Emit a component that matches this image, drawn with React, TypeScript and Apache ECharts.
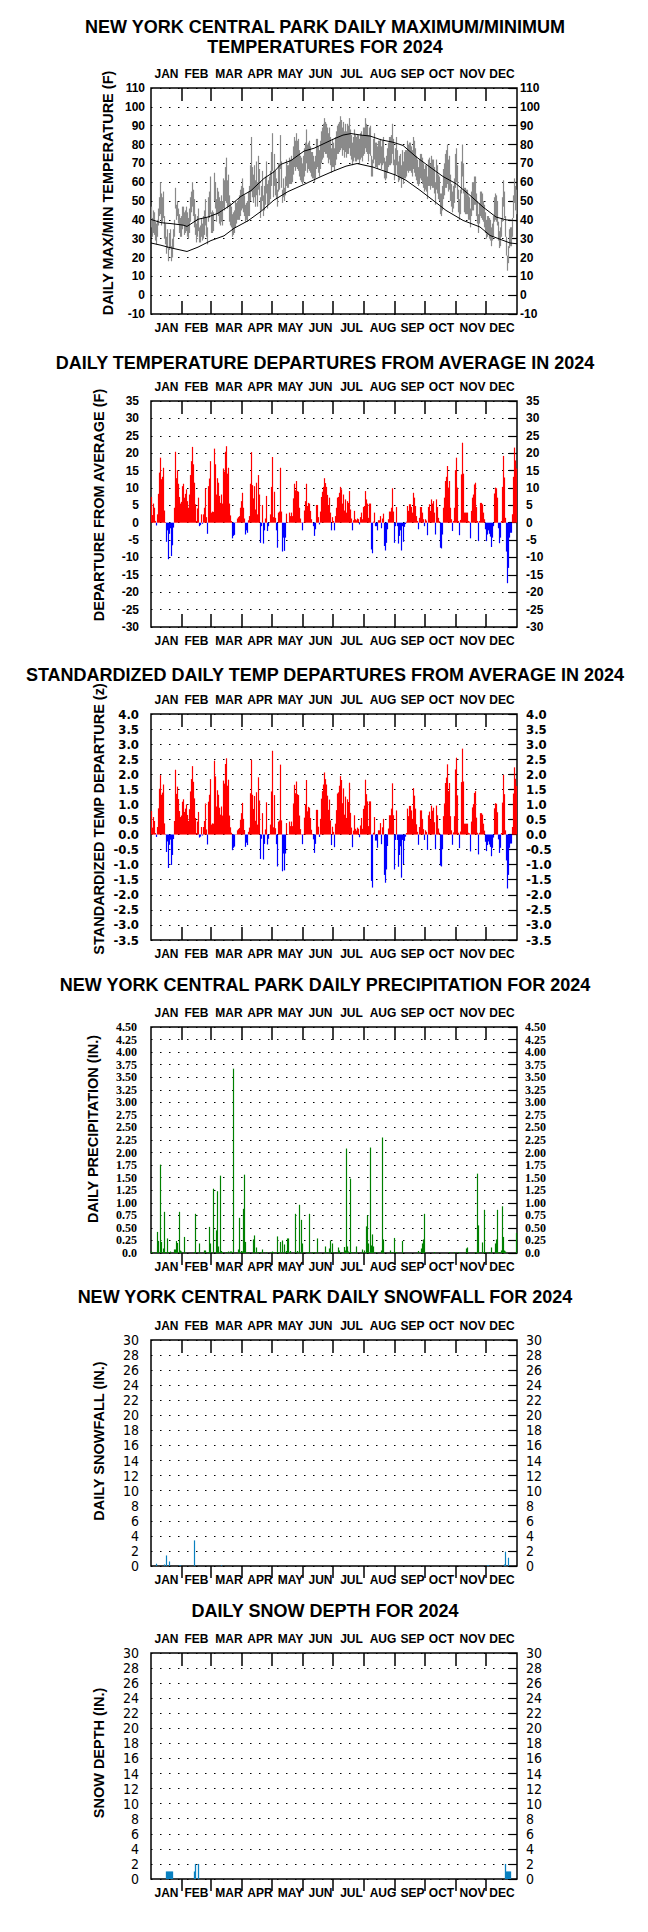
import React, { useEffect, useRef } from "react";
import * as echarts from "echarts";

// ---------- axis / category data ----------
const MONTHS = ["JAN", "FEB", "MAR", "APR", "MAY", "JUN", "JUL", "AUG", "SEP", "OCT", "NOV", "DEC"];
const MONTH_STARTS = [31, 60, 91, 121, 152, 182, 213, 244, 274, 305, 335];
const MONTH_LABEL_DAYS = [15.5, 45.5, 78, 109, 139.5, 169.5, 200.5, 232, 261.5, 290.5, 321.5, 351];

const TEMP_AXIS = [-10, 110, 10];
const DEP_AXIS = [-30, 35, 5];
const Z_AXIS = [-3.5, 4, 0.5];
const PRECIP_AXIS = [0, 4.5, 0.25];
const SNOW_AXIS = [0, 30, 2];

// ---------- normals (day of year, deg F) ----------
const NORMAL_MAX: [number, number][] = [
  [0, 40.2], [10, 38.5], [20, 38], [32, 37.2], [36, 36.5], [47, 40.3], [57, 41.5], [67, 43.5], [80, 48], [90, 52.5],
  [100, 55.5], [113, 62], [123, 65.5], [130, 69.5], [140, 71.5], [153, 76.5], [163, 78], [173, 80.5], [183, 83],
  [192, 85], [200, 85.8], [210, 85], [219, 84.5], [230, 82.5], [242, 81.2], [252, 79.5], [265, 73.5], [279, 68],
  [292, 63], [305, 59.2], [319, 53], [332, 46.8], [345, 41.5], [355, 40], [366, 39.5],
];
const NORMAL_MIN: [number, number][] = [
  [0, 27.7], [10, 26.5], [17, 25.5], [25, 24.5], [36, 23.2], [47, 25.5], [60, 29], [73, 31.5], [83, 35.5], [97, 39.5],
  [110, 44.5], [123, 50.5], [137, 55], [153, 58.8], [170, 63], [183, 66], [195, 68.5], [206, 69.9], [222, 68],
  [245, 63.7], [255, 61], [269, 55.7], [282, 50.4], [295, 45], [312, 39.7], [329, 36.2], [339, 31.7], [350, 29.5],
  [359, 27.7], [366, 27.3],
];

// ---------- daily observed max / min (deg F), Jan 1 .. Dec 31 ----------
const DAILY_MAX = [
  47, 41, 45, 44, 39, 38, 40, 46, 52, 60, 54, 52, 55, 42, 38, 31, 35, 25, 33, 35, 26, 30, 35, 40, 57, 48, 50, 46, 43, 41, 42,
  47, 47, 44, 45, 47, 44, 41, 46, 52, 55, 60, 56, 51, 43, 38, 42, 46, 36, 37, 41, 38, 42, 45, 51, 41, 36, 52, 55, 63,
  44, 45, 44, 65, 60, 51, 57, 55, 52, 50, 53, 50, 62, 61, 68, 73, 61, 64, 53, 49, 47, 43, 44, 45, 50, 49, 50, 51, 53, 56, 58,
  62, 57, 53, 48, 49, 50, 55, 58, 69, 84, 68, 64, 69, 61, 71, 60, 74, 67, 52, 58, 66, 53, 58, 63, 71, 59, 61, 63, 66, 76,
  86, 66, 75, 66, 62, 56, 70, 70, 85, 71, 56, 62, 57, 63, 72, 69, 69, 73, 72, 74, 72, 79, 84, 82, 86, 82, 83, 77, 74, 73, 70,
  74, 78, 81, 88, 80, 81, 82, 79, 76, 76, 74, 71, 74, 83, 83, 79, 77, 82, 87, 89, 91, 94, 92, 91, 89, 86, 89, 84, 78, 83,
  81, 78, 84, 87, 90, 91, 92, 95, 93, 89, 92, 87, 91, 87, 91, 90, 94, 88, 85, 81, 84, 88, 85, 84, 85, 85, 83, 86, 87, 85, 89,
  89, 94, 91, 90, 85, 89, 90, 74, 72, 83, 86, 81, 81, 79, 82, 82, 83, 79, 82, 84, 73, 71, 74, 78, 81, 84, 84, 85, 91, 83, 72,
  78, 84, 77, 71, 74, 75, 69, 77, 71, 76, 77, 77, 82, 80, 81, 81, 79, 77, 84, 82, 78, 74, 72, 68, 72, 75, 75, 73, 70, 67,
  69, 69, 63, 72, 73, 70, 74, 72, 72, 68, 60, 72, 69, 64, 63, 54, 54, 58, 67, 70, 75, 77, 80, 72, 74, 64, 59, 55, 58, 62, 75,
  78, 69, 56, 51, 56, 71, 80, 70, 57, 57, 56, 56, 53, 52, 46, 55, 60, 60, 63, 63, 54, 50, 43, 49, 55, 55, 54, 50, 48, 44,
  40, 42, 42, 41, 40, 36, 38, 42, 52, 54, 53, 50, 39, 34, 36, 41, 52, 61, 55, 42, 31, 21, 26, 35, 36, 36, 41, 53, 62, 58, 56,
];
const DAILY_MIN = [
  36, 31, 33, 32, 29, 27, 31, 37, 42, 43, 37, 39, 41, 30, 27, 22, 25, 18, 24, 25, 18, 20, 25, 31, 46, 40, 42, 38, 33, 31, 31,
  35, 37, 32, 33, 34, 31, 30, 33, 39, 44, 47, 42, 36, 32, 28, 31, 34, 28, 28, 31, 29, 30, 32, 37, 31, 27, 39, 41, 43,
  33, 33, 34, 50, 46, 39, 43, 42, 38, 37, 39, 37, 46, 45, 50, 49, 46, 47, 39, 37, 36, 31, 32, 33, 36, 38, 40, 40, 40, 42, 45,
  46, 44, 42, 39, 40, 39, 42, 42, 50, 55, 52, 49, 52, 47, 53, 47, 56, 53, 41, 45, 50, 42, 45, 48, 54, 46, 48, 49, 51, 58,
  66, 52, 58, 53, 51, 47, 55, 56, 67, 57, 49, 52, 50, 53, 58, 57, 57, 59, 59, 59, 60, 64, 68, 66, 68, 67, 66, 63, 61, 60, 59,
  60, 63, 66, 70, 65, 67, 66, 65, 63, 62, 62, 60, 62, 67, 68, 65, 63, 67, 70, 72, 73, 76, 75, 75, 73, 70, 72, 69, 65, 68,
  68, 66, 69, 72, 75, 75, 76, 77, 78, 74, 77, 73, 76, 73, 75, 75, 78, 74, 72, 69, 71, 73, 71, 71, 72, 72, 70, 72, 73, 71, 74,
  75, 78, 76, 75, 71, 75, 74, 63, 63, 70, 72, 68, 68, 67, 69, 69, 70, 67, 69, 70, 62, 61, 62, 65, 68, 69, 69, 70, 75, 69, 61,
  64, 69, 64, 60, 61, 62, 57, 62, 59, 62, 62, 63, 66, 65, 66, 66, 65, 63, 67, 65, 63, 61, 59, 58, 59, 62, 61, 59, 57, 55,
  56, 55, 51, 58, 58, 56, 58, 57, 57, 54, 48, 56, 54, 51, 50, 43, 42, 45, 51, 53, 57, 57, 59, 55, 56, 50, 47, 44, 46, 49, 57,
  60, 51, 44, 40, 43, 54, 63, 54, 44, 43, 43, 43, 40, 40, 36, 42, 45, 45, 48, 48, 42, 38, 33, 38, 42, 41, 40, 39, 36, 33,
  30, 31, 32, 30, 29, 26, 29, 31, 39, 40, 39, 37, 29, 25, 26, 31, 39, 47, 41, 31, 21, 13, 17, 25, 26, 26, 31, 41, 49, 45, 43,
];

// ---------- daily departure from average (deg F) ----------
const DEPARTURE = [
  7.4, 2.2, 5.5, 4.3, 0.5, -0.8, 2.4, 8.3, 14.4, 18.7, 12.5, 13.2, 15.8, 3.5, 0.2, -5.5, -2.2, -10.5, -3.2, -1.6, -9.6, -6.5, -1.4, 4.3, 20.4, 12.8, 15.1, 11.2, 7.4, 5.5, 6.0,
  10.5, 11.2, 7.2, 8.3, 9.6, 6.2, 4.3, 8.1, 13.7, 17.7, 21.8, 16.8, 11.5, 5.3, 0.5, 4.1, 7.2, -1.0, -0.7, 2.4, -0.3, 2.4, 4.3, 9.9, 1.6, -3.2, 10.5, 12.7, 17.7,
  2.9, 3.2, 3.1, 21.3, 16.8, 8.1, 12.8, 11.5, 7.7, 5.7, 8.1, 5.5, 15.6, 14.7, 20.4, 22.0, 14.1, 15.8, 5.5, 2.1, 0.5, -4.5, -3.8, -3.5, 0.1, 0.1, 1.2, 1.6, 1.9, 4.3, 6.2,
  8.6, 4.3, 1.2, -3.4, -2.2, -2.9, 0.7, 1.9, 11.2, 20.3, 10.8, 7.0, 10.5, 3.8, 11.5, 2.4, 13.7, 8.1, -5.8, -1.0, 5.1, -6.0, -2.2, 1.2, 7.7, -2.4, -1.0, 0.1, 2.4, 10.3,
  18.9, 1.6, 8.9, 1.4, -2.2, -7.2, 2.9, 3.2, 15.8, 3.2, -8.3, -4.3, -8.1, -4.3, 2.6, 0.1, 0.1, 2.9, 1.9, 2.9, 1.9, 7.0, 11.2, 9.3, 12.0, 9.1, 8.9, 4.3, 1.2, 0.1, -2.2,
  0.1, 3.5, 6.2, 11.2, 4.8, 5.7, 5.5, 3.4, 1.0, 0.1, -1.0, -3.8, -1.9, 5.1, 5.1, 1.6, -0.5, 3.2, 7.4, 8.9, 10.3, 12.8, 11.4, 10.3, 8.0, 5.1, 7.2, 2.9, -2.2, 1.6,
  0.5, -2.2, 1.9, 4.3, 7.2, 7.4, 8.6, 10.3, 9.6, 5.5, 8.1, 3.5, 6.7, 2.9, 6.2, 5.7, 9.1, 3.8, 1.2, -2.2, 0.7, 3.4, 1.0, 0.7, 1.2, 1.0, -0.5, 1.6, 2.9, 1.0, 4.5,
  4.8, 9.1, 6.7, 5.5, 1.4, 5.5, 5.5, -7.7, -8.8, 0.3, 2.9, -1.0, -1.0, -2.2, 0.7, 0.7, 1.9, -1.6, 1.2, 2.6, -6.7, -8.0, -5.8, -1.9, 1.0, 3.2, 3.2, 4.3, 9.9, 3.2, -5.8,
  -1.0, 4.5, -1.0, -6.0, -3.8, -2.2, -8.0, -1.0, -5.5, -1.2, -0.4, 0.3, 4.8, 3.4, 5.3, 5.3, 4.5, 2.9, 8.6, 7.2, 4.8, 1.9, 0.5, -1.9, 1.4, 4.5, 4.5, 2.9, 1.0, -1.0,
  1.0, 0.6, -3.6, 4.5, 5.3, 3.4, 6.7, 5.5, 6.2, 2.9, -3.4, 6.7, 4.5, 1.4, 0.4, -7.2, -7.4, -3.4, 4.3, 7.2, 12.0, 13.2, 16.3, 10.1, 12.0, 4.3, 1.0, -2.4, 0.5, 4.3, 15.1,
  18.7, 10.1, 0.5, -3.6, 0.8, 13.9, 23.0, 14.1, 2.9, 2.9, 2.9, 2.9, 0.5, 0.3, -4.5, 3.4, 7.2, 8.1, 11.0, 11.5, 4.5, 0.5, -5.3, 0.5, 5.7, 5.7, 5.3, 2.9, 1.0, -1.9,
  -5.3, -3.4, -2.2, -3.2, -4.0, -7.0, -4.3, -1.0, 8.4, 10.1, 9.9, 7.2, -1.6, -5.9, -4.3, 0.5, 10.3, 19.2, 13.0, 1.4, -8.3, -17.4, -13.0, -4.3, -2.9, -2.9, 2.4, 13.2, 21.6, 17.9, 15.6,
];

// ---------- standardized departure (z) ----------
const Z_DEPARTURE = [
  0.78, 0.23, 0.58, 0.45, 0.05, -0.08, 0.25, 0.87, 1.52, 1.97, 1.32, 1.39, 1.66, 0.37, 0.02, -0.58, -0.23, -1.11, -0.34, -0.17, -1.01, -0.68, -0.15, 0.45, 2.15, 1.35, 1.59, 1.18, 0.78, 0.58, 0.63,
  1.09, 1.17, 0.75, 0.86, 1.0, 0.65, 0.45, 0.84, 1.43, 1.84, 2.27, 1.75, 1.2, 0.55, 0.05, 0.43, 0.75, -0.1, -0.07, 0.25, -0.03, 0.25, 0.45, 1.03, 0.17, -0.33, 1.09, 1.32, 1.84,
  0.33, 0.37, 0.36, 2.45, 1.93, 0.93, 1.47, 1.32, 0.89, 0.66, 0.93, 0.63, 1.79, 1.69, 2.34, 2.53, 1.62, 1.82, 0.63, 0.24, 0.06, -0.52, -0.44, -0.4, 0.01, 0.01, 0.14, 0.18, 0.22, 0.49, 0.71,
  1.05, 0.52, 0.15, -0.41, -0.27, -0.35, 0.09, 0.23, 1.37, 2.48, 1.32, 0.85, 1.28, 0.46, 1.4, 0.33, 1.9, 1.13, -0.81, -0.14, 0.71, -0.83, -0.31, 0.17, 1.07, -0.33, -0.14, 0.01, 0.33, 1.43,
  2.78, 0.24, 1.31, 0.21, -0.32, -1.06, 0.43, 0.47, 2.32, 0.47, -1.22, -0.63, -1.19, -0.63, 0.38, 0.01, 0.01, 0.43, 0.28, 0.43, 0.28, 1.03, 1.65, 1.37, 1.76, 1.34, 1.31, 0.63, 0.18, 0.01, -0.32,
  0.02, 0.56, 1.0, 1.81, 0.77, 0.92, 0.89, 0.55, 0.16, 0.02, -0.16, -0.61, -0.31, 0.82, 0.82, 0.26, -0.08, 0.52, 1.19, 1.44, 1.66, 2.06, 1.84, 1.66, 1.29, 0.82, 1.16, 0.47, -0.35, 0.26,
  0.09, -0.42, 0.36, 0.81, 1.36, 1.4, 1.62, 1.94, 1.81, 1.04, 1.53, 0.66, 1.26, 0.55, 1.17, 1.08, 1.72, 0.72, 0.23, -0.42, 0.13, 0.64, 0.19, 0.13, 0.23, 0.19, -0.09, 0.3, 0.55, 0.19, 0.85,
  0.96, 1.82, 1.34, 1.1, 0.28, 1.1, 1.1, -1.54, -1.76, 0.06, 0.58, -0.2, -0.2, -0.44, 0.14, 0.14, 0.38, -0.32, 0.24, 0.52, -1.34, -1.6, -1.16, -0.38, 0.2, 0.64, 0.64, 0.86, 1.7, 0.64, -1.16,
  -0.18, 0.8, -0.18, -1.07, -0.68, -0.39, -1.43, -0.18, -0.98, -0.21, -0.07, 0.05, 0.86, 0.61, 0.95, 0.95, 0.8, 0.52, 1.54, 1.29, 0.86, 0.34, 0.09, -0.34, 0.25, 0.8, 0.8, 0.52, 0.18, -0.18,
  0.14, 0.09, -0.51, 0.64, 0.76, 0.49, 0.96, 0.79, 0.89, 0.41, -0.49, 0.96, 0.64, 0.2, 0.06, -1.03, -1.06, -0.49, 0.61, 1.03, 1.71, 1.89, 2.33, 1.44, 1.71, 0.61, 0.14, -0.34, 0.07, 0.61, 2.16,
  2.55, 1.3, 0.06, -0.45, 0.1, 1.74, 2.85, 1.76, 0.36, 0.36, 0.36, 0.36, 0.06, 0.04, -0.56, 0.43, 0.9, 1.01, 1.38, 1.44, 0.56, 0.06, -0.66, 0.06, 0.71, 0.71, 0.66, 0.36, 0.13, -0.24,
  -0.55, -0.35, -0.23, -0.33, -0.41, -0.72, -0.44, -0.1, 0.87, 1.04, 1.02, 0.74, -0.16, -0.61, -0.44, 0.05, 1.06, 1.98, 1.34, 0.14, -0.86, -1.79, -1.34, -0.44, -0.3, -0.3, 0.25, 1.36, 2.23, 1.85, 1.61,
];

// ---------- precipitation / snow: [day index (0 = Jan 1), inches], other days zero ----------
const PRECIP: [number, number][] = [
  [0, 0.03], [3, 0.02], [6, 0.42], [7, 0.24], [9, 1.76], [10, 0.22], [12, 0.09], [13, 0.82], [14, 0.02], [16, 0.29],
  [17, 0.02], [19, 0.03], [23, 0.07], [24, 0.07], [25, 0.24], [26, 0.2], [28, 0.82], [29, 0.05], [30, 0.03], [33, 0.32],
  [43, 0.02], [44, 0.78], [48, 0.19], [53, 0.05], [54, 0.05], [57, 0.02], [58, 0.52], [59, 0.19], [62, 1.28], [65, 0.45],
  [66, 1.23], [67, 0.13], [69, 1.54], [70, 0.04], [71, 0.02], [75, 0.02], [77, 0.03], [79, 0.03], [80, 0.03], [82, 3.67],
  [87, 0.07], [88, 0.7], [90, 0.04], [91, 0.03], [92, 0.88], [93, 1.56], [94, 0.22], [97, 0.02], [102, 0.27], [103, 0.35],
  [105, 0.11], [107, 0.02], [109, 0.02], [111, 0.07], [115, 0.02], [119, 0.02], [121, 0.03], [122, 0.02], [126, 0.33],
  [127, 0.02], [129, 0.22], [131, 0.25], [133, 0.17], [135, 0.04], [136, 0.29], [137, 0.29], [139, 0.04], [144, 0.78],
  [146, 0.04], [148, 0.96], [150, 0.66], [151, 0.19], [155, 0.02], [157, 0.02], [158, 0.78], [161, 0.02], [163, 0.02],
  [166, 0.29], [174, 0.13], [176, 0.02], [178, 0.09], [179, 0.25], [181, 0.19], [184, 0.02], [187, 0.11], [188, 0.05],
  [190, 0.02], [193, 0.12], [194, 0.05], [195, 2.08], [196, 0.13], [197, 0.03], [199, 1.48], [200, 0.02], [203, 0.02],
  [205, 0.13], [211, 0.07], [213, 0.05], [215, 0.53], [216, 0.75], [217, 0.19], [219, 2.1], [220, 0.15], [221, 0.37],
  [222, 0.13], [225, 0.02], [230, 0.05], [231, 2.3], [232, 0.27], [239, 0.05], [241, 0.02], [243, 0.3], [245, 0.02],
  [251, 0.24], [267, 0.04], [270, 0.09], [271, 0.19], [272, 0.27], [273, 0.78], [283, 0.02], [298, 0.02], [303, 0.02],
  [307, 0.02], [315, 0.09], [316, 0.11], [324, 0.02], [326, 1.58], [327, 0.55], [331, 0.21], [333, 0.86], [334, 0.02],
  [338, 0.02], [340, 0.11], [344, 0.19], [345, 0.27], [346, 0.86], [348, 0.02], [350, 0.05], [351, 0.93], [352, 0.32],
  [353, 0.05], [354, 0.03], [365, 0.4],
];
const SNOWFALL: [number, number][] = [
  [5, 0.3], [13, 0.2], [15, 1.4], [18, 0.6], [28, 0.1], [29, 0.1], [43, 3.4], [70, 0.1], [336, 0.1], [337, 0.1],
  [353, 0.2], [354, 1.9], [357, 1.1],
];
const SNOW_DEPTH: [number, number][] = [
  [15, 1], [16, 1], [17, 1], [18, 1], [19, 1], [20, 1], [21, 1], [43, 1], [44, 2], [47, 2],
  [354, 2], [355, 1], [356, 1], [357, 1], [358, 1], [359, 1],
];

// ---------- texts ----------
const TITLES = [
  "NEW YORK CENTRAL PARK DAILY MAXIMUM/MINIMUM",
  "TEMPERATURES FOR 2024",
  "DAILY TEMPERATURE DEPARTURES FROM AVERAGE IN 2024",
  "STANDARDIZED DAILY TEMP DEPARTURES FROM AVERAGE IN 2024",
  "NEW YORK CENTRAL PARK DAILY PRECIPITATION FOR 2024",
  "NEW YORK CENTRAL PARK DAILY SNOWFALL FOR 2024",
  "DAILY SNOW DEPTH FOR 2024",
];
const Y_NAMES = [
  "DAILY MAX/MIN TEMPERATURE (F)",
  "DEPARTURE FROM AVERAGE (F)",
  "STANDARDIZED TEMP DEPARTURE (z)",
  "DAILY PRECIPITATION (IN.)",
  "DAILY SNOWFALL (IN.)",
  "SNOW DEPTH (IN.)",
];

const SANS = "'Liberation Sans', Arial, Helvetica, sans-serif";
const NARROW = "'Liberation Sans Narrow', 'DejaVu Sans Condensed', 'Liberation Sans', sans-serif";
const SERIF = "'Liberation Serif', 'Times New Roman', serif";

const PANELS = [
  { top: 88, axis: TEMP_AXIS, fmt: (v: number) => String(v), font: SANS, weight: "bold", size: 12, lm: 6, rm: 3, tickOut: false },
  { top: 401, axis: DEP_AXIS, fmt: (v: number) => String(v), font: SANS, weight: "bold", size: 12, lm: 12, rm: 9, tickOut: false },
  { top: 714, axis: Z_AXIS, fmt: (v: number) => v.toFixed(1), font: NARROW, weight: "bold", size: 13, lm: 12, rm: 9, tickOut: false },
  { top: 1027, axis: PRECIP_AXIS, fmt: (v: number) => (v === 0 ? "0.0" : v.toFixed(2)), font: SERIF, weight: "bold", size: 12, lm: 14, rm: 8, tickOut: true },
  { top: 1340, axis: SNOW_AXIS, fmt: (v: number) => String(v), font: NARROW, weight: "normal", size: 14, lm: 12, rm: 9, tickOut: true },
  { top: 1653, axis: SNOW_AXIS, fmt: (v: number) => String(v), font: NARROW, weight: "normal", size: 14, lm: 12, rm: 9, tickOut: true },
];

const GRID_LEFT = 151;
const GRID_WIDTH = 366;
const GRID_HEIGHT = 226;

function buildOption() {
  const grid: any[] = [];
  const xAxis: any[] = [];
  const yAxis: any[] = [];
  PANELS.forEach((p, i) => {
    grid.push({
      left: GRID_LEFT, top: p.top, width: GRID_WIDTH, height: GRID_HEIGHT,
      show: true, borderColor: "#000", borderWidth: 1.5, backgroundColor: "transparent",
    });
    const monthLabel = {
      show: true,
      customValues: MONTH_LABEL_DAYS,
      formatter: (v: number) => MONTHS[MONTH_LABEL_DAYS.indexOf(v)] ?? "",
      margin: 8, color: "#000", fontSize: 12, fontWeight: "bold", fontFamily: SANS,
    };
    xAxis.push({
      type: "value", gridIndex: i, position: "bottom", min: 0, max: 366,
      axisLine: { show: false, onZero: false }, splitLine: { show: false },
      axisTick: { show: true, inside: !p.tickOut, length: p.tickOut ? 12 : 13, customValues: MONTH_STARTS, lineStyle: { color: "#000", width: 1.5 } },
      axisLabel: monthLabel,
    });
    xAxis.push({
      type: "value", gridIndex: i, position: "top", min: 0, max: 366,
      axisLine: { show: false, onZero: false }, splitLine: { show: false },
      axisTick: { show: true, inside: true, length: 13, customValues: MONTH_STARTS, lineStyle: { color: "#000", width: 1.5 } },
      axisLabel: monthLabel,
    });
    const [mn, mx, iv] = p.axis;
    const lab = { color: "#000", fontSize: p.size, fontWeight: p.weight, fontFamily: p.font, formatter: p.fmt };
    yAxis.push({
      type: "value", gridIndex: i, position: "left", min: mn, max: mx, interval: iv,
      axisLine: { show: false, onZero: false }, axisTick: { show: false },
      axisLabel: { ...lab, margin: p.lm },
      splitLine: { show: true, lineStyle: { color: "#000", width: 1.2, type: [1.5, 7.5] } },
    });
    yAxis.push({
      type: "value", gridIndex: i, position: "right", min: mn, max: mx, interval: iv,
      axisLine: { show: false, onZero: false },
      axisTick: { show: true, inside: true, length: 9, lineStyle: { color: "#000", width: 1.2 } },
      axisLabel: { ...lab, margin: p.rm },
      splitLine: { show: false },
    });
  });

  const series: any[] = [
    {
      type: "custom", xAxisIndex: 0, yAxisIndex: 0,
      data: DAILY_MAX.map((mx, d) => [d + 0.5, DAILY_MIN[d], mx]),
      encode: { x: 0, y: [1, 2] },
      renderItem: (_p: any, api: any) => {
        const x = api.value(0);
        const lo = api.coord([x, api.value(1)]);
        const hi = api.coord([x, api.value(2)]);
        return { type: "rect", shape: { x: lo[0] - 0.6, y: hi[1], width: 1.2, height: lo[1] - hi[1] }, style: { fill: "#8a8a8a" } };
      },
    },
    { type: "line", xAxisIndex: 0, yAxisIndex: 0, data: NORMAL_MAX, showSymbol: false, symbol: "none", lineStyle: { color: "#000", width: 1 } },
    { type: "line", xAxisIndex: 0, yAxisIndex: 0, data: NORMAL_MIN, showSymbol: false, symbol: "none", lineStyle: { color: "#000", width: 1 } },
    {
      type: "bar", xAxisIndex: 2, yAxisIndex: 2, barWidth: 1.2,
      data: DEPARTURE.map((v, d) => ({ value: [d + 0.5, v], itemStyle: { color: v >= 0 ? "#ff0000" : "#0000ff" } })),
    },
    {
      type: "bar", xAxisIndex: 4, yAxisIndex: 4, barWidth: 1.2,
      data: Z_DEPARTURE.map((v, d) => ({ value: [d + 0.5, v], itemStyle: { color: v >= 0 ? "#ff0000" : "#0000ff" } })),
    },
    { type: "bar", xAxisIndex: 6, yAxisIndex: 6, barWidth: 1.2, itemStyle: { color: "#008000" }, data: PRECIP.map(([d, v]) => [d + 0.5, v]) },
    { type: "bar", xAxisIndex: 8, yAxisIndex: 8, barWidth: 1.2, itemStyle: { color: "#0a80c0" }, data: SNOWFALL.map(([d, v]) => [d + 0.5, v]) },
    { type: "bar", xAxisIndex: 10, yAxisIndex: 10, barWidth: 1.3, itemStyle: { color: "#0a80c0" }, data: SNOW_DEPTH.map(([d, v]) => [d + 0.5, v]) },
  ];

  const titleY = [27, 47, 363, 675, 985, 1297, 1611];
  const nameX = [108, 99, 99, 93, 99, 99];
  const nameY = [193, 505, 819, 1129, 1441, 1753];
  const graphic: any[] = [];
  TITLES.forEach((t, i) => {
    graphic.push({
      type: "text", x: 325, y: titleY[i], silent: true,
      style: { text: t, font: `bold 18px ${SANS}`, fill: "#000", textAlign: "center", textVerticalAlign: "middle", align: "center", verticalAlign: "middle" },
    });
  });
  Y_NAMES.forEach((t, i) => {
    graphic.push({
      type: "text", x: nameX[i], y: nameY[i], rotation: Math.PI / 2, silent: true,
      style: { text: t, font: `bold 14.5px ${SANS}`, fill: "#000", textAlign: "center", textVerticalAlign: "middle", align: "center", verticalAlign: "middle" },
    });
  });

  return { animation: false, backgroundColor: "#fff", grid, xAxis, yAxis, series, graphic };
}

export default function App() {
  const ref = useRef<HTMLDivElement>(null);
  useEffect(() => {
    document.body.style.margin = "0";
    if (!ref.current) return;
    const chart = echarts.init(ref.current, undefined, { renderer: "svg" });
    chart.setOption(buildOption() as any);
    return () => chart.dispose();
  }, []);
  return <div ref={ref} style={{ position: "absolute", left: 0, top: 0, width: 648, height: 1932 }} />;
}
